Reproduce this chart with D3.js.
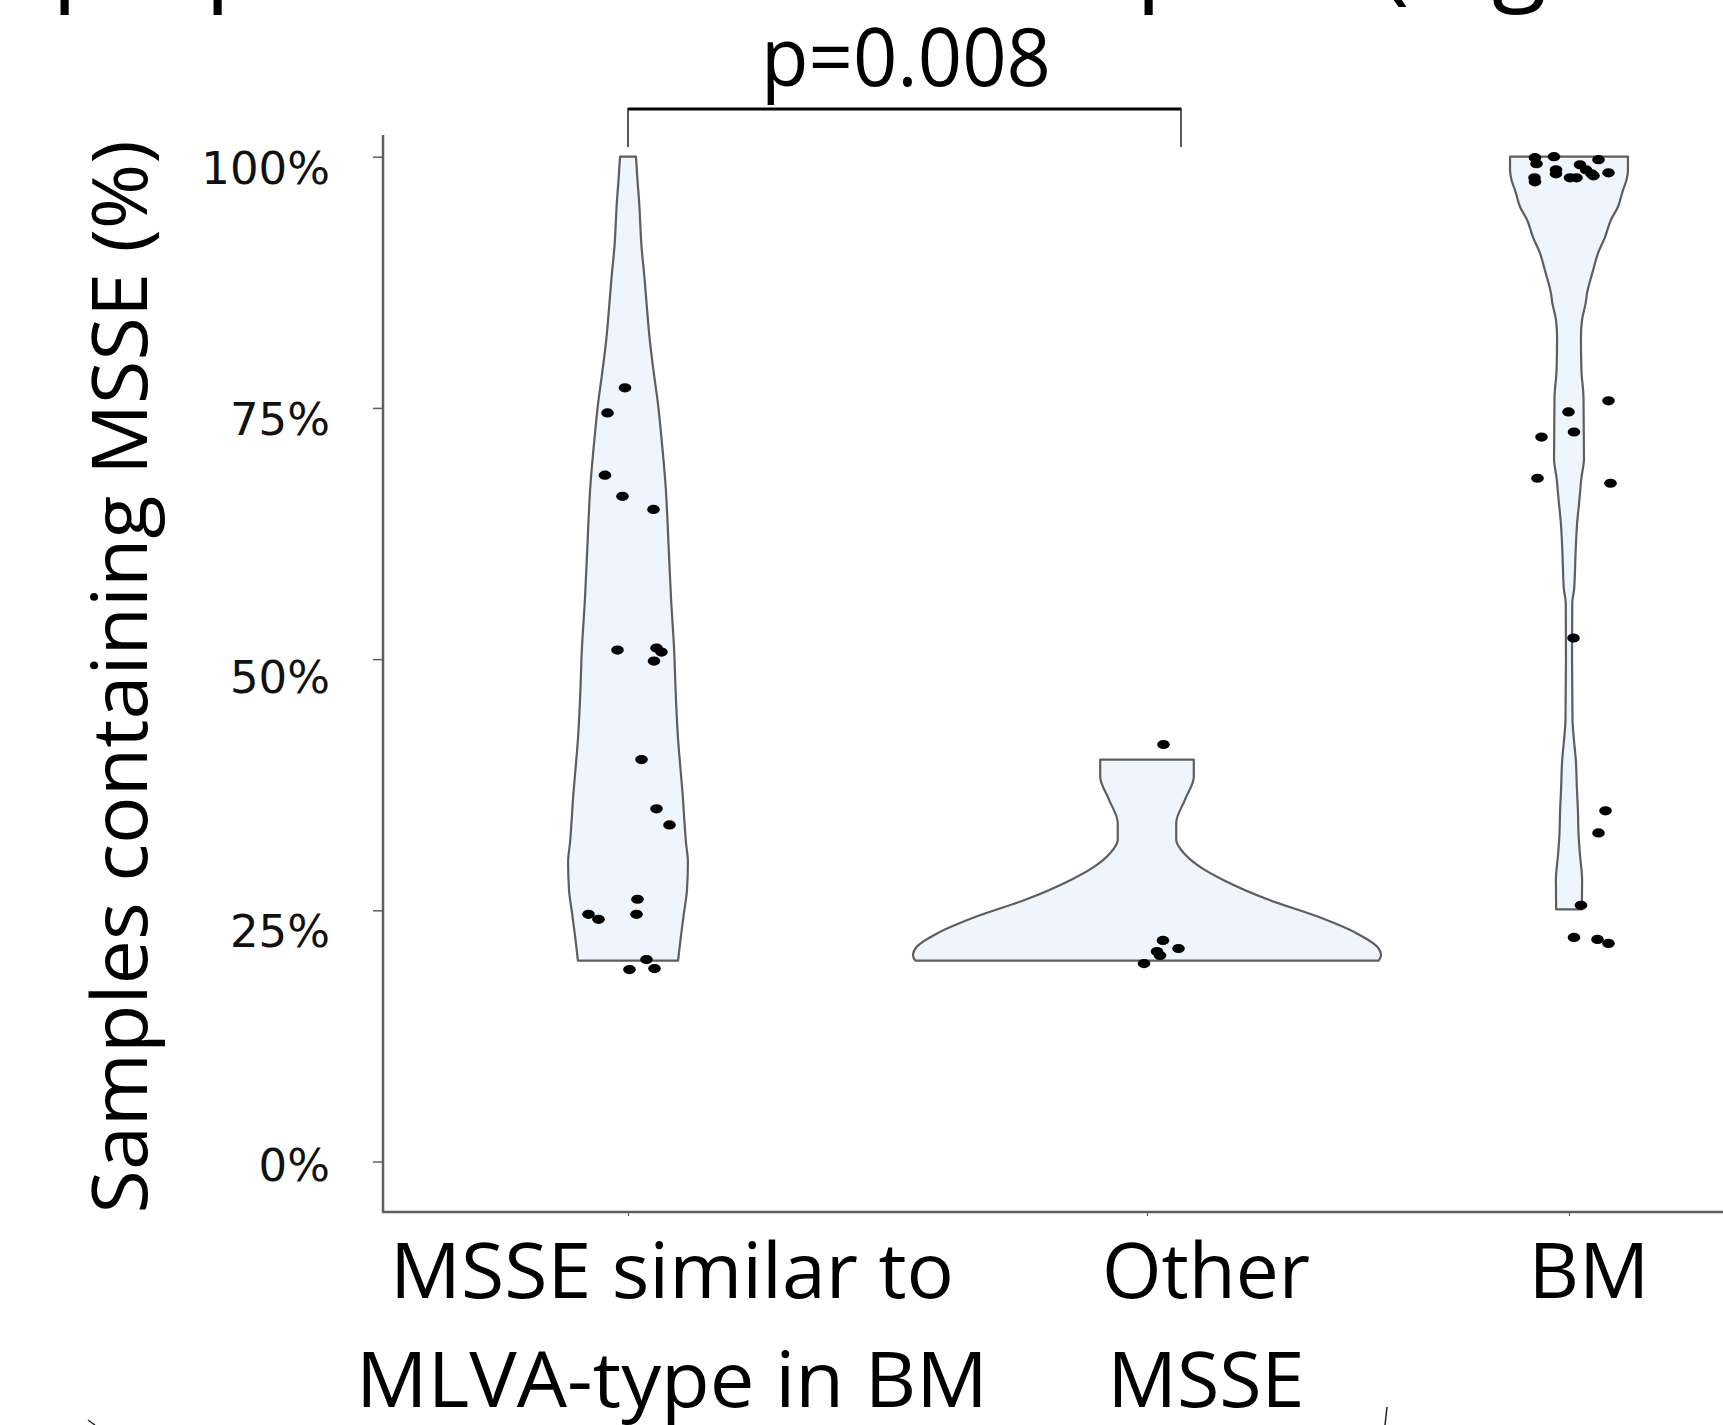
<!DOCTYPE html>
<html>
<head>
<meta charset="utf-8">
<script src="https://cdn.jsdelivr.net/npm/d3@7"></script>
<style>
  html, body { margin: 0; padding: 0; background: #fff; }
  svg { display: block; }
</style>
</head>
<body>
<svg width="1723" height="1425"></svg>
<script>
'use strict';

// categories and their (two line) labels
var categories = ['similar', 'other', 'bm'];
var categoryLabels = [
    ['MSSE similar to', 'MLVA-type in BM'],
    ['Other', 'MSSE'],
    ['BM']
];
var yTicks = [0, 25, 50, 75, 100];
var yTitle = 'Samples containing MSSE (%)';
var pValueText = 'p=0.008';

// violin outlines: [value %, relative half width]
var violinSimilar = [
    [100, 0.034], [97.5, 0.041], [95.7, 0.047], [91, 0.058], [87.8, 0.071],
    [85.5, 0.079], [82, 0.092], [78, 0.113], [75.8, 0.126],
    [72, 0.143], [67.5, 0.160], [60.5, 0.175], [56, 0.184], [51, 0.197],
    [46, 0.205], [42, 0.214], [39.7, 0.222], [36.7, 0.233], [31.7, 0.248],
    [29.8, 0.256], [27, 0.252], [24.7, 0.239], [22.4, 0.226], [20, 0.214]
];
var violinOther = [
    [40, 0.200], [38.3, 0.200], [36, 0.162], [33.7, 0.125], [32, 0.125],
    [30.7, 0.157], [29.3, 0.228], [28, 0.328], [26, 0.526], [24.4, 0.726],
    [22.7, 0.897], [21.4, 0.983], [20.5, 1.0], [20, 0.99]
];
var violinBM = [
    [100, 0.252], [98.7, 0.252], [97.7, 0.246], [96.7, 0.231], [95, 0.209],
    [93.7, 0.179], [92, 0.154], [90.4, 0.124], [88.7, 0.103], [86.4, 0.077],
    [85.4, 0.071], [83.8, 0.056], [82.1, 0.051], [78.8, 0.053], [76, 0.062],
    [70, 0.064], [68, 0.053], [66, 0.045], [63.3, 0.034], [60.5, 0.028],
    [57, 0.022], [55.6, 0.014], [50, 0.013], [44, 0.015], [42, 0.021],
    [40, 0.029], [37, 0.034], [35, 0.038], [32.5, 0.041], [30.5, 0.047],
    [28, 0.056], [25.1, 0.055]
];

// samples: [value %, jitter -1..1]
var pointsSimilar = [
    [77.0, -0.06], [74.5, -0.41], [68.3, -0.46], [66.2, -0.11], [64.9, 0.51],
    [50.9, -0.21], [51.1, 0.57], [50.7, 0.67], [49.8, 0.52], [40.0, 0.27],
    [35.1, 0.57], [33.5, 0.83], [26.1, 0.19], [24.6, 0.17], [24.6, -0.79],
    [24.1, -0.59], [20.1, 0.37], [19.1, 0.03], [19.2, 0.53]
];
var pointsOther = [
    [41.5, 0.33], [22.0, 0.32], [21.2, 0.63], [20.9, 0.20], [20.5, 0.26], [19.7, -0.06]
];
var pointsBM = [
    [99.9, -0.68], [100, -0.30], [99.7, 0.59], [99.3, -0.65], [98.7, -0.26],
    [99.2, 0.22], [98.7, 0.34], [98.4, 0.79], [97.9, -0.69], [97.5, -0.68],
    [98.3, -0.26], [97.9, 0.02], [97.9, 0.15], [98.1, 0.49], [98.3, 0.45],
    [75.7, 0.79], [74.6, -0.01], [72.6, 0.10], [72.1, -0.55], [68.0, -0.63],
    [67.5, 0.83], [52.1, 0.09], [34.9, 0.73], [32.7, 0.59], [25.5, 0.24],
    [22.3, 0.10], [22.1, 0.57], [21.7, 0.79]
];

// glyph ends of the cut off slide title above the chart
var titleGlyphs = [['p', 52], ['p', 205], ['p', 1136], ['(', 1380], ['g', 1492]];

var svg = d3.select('svg');

var x = d3.scaleOrdinal().domain(categories).range([628, 1147, 1569]);
var y = d3.scaleLinear().domain([0, 100]).range([1161.5, 156.7]);
var w = d3.scaleLinear().domain([0, 1]).range([0, 234]);
var jitter = d3.scaleLinear().domain([-1, 1]).range([-50, 50]);

var axisX = 383, axisBottom = 1212, axisTop = 135;
var axisColor = '#606060';
var textFont = '"Open Sans", "Noto Sans", sans-serif';

// axis lines
svg.append('line')
    .attr('x1', axisX).attr('x2', axisX)
    .attr('y1', axisTop).attr('y2', axisBottom + 1)
    .attr('stroke', axisColor).attr('stroke-width', 2.5);
svg.append('line')
    .attr('x1', axisX - 1).attr('x2', 1723)
    .attr('y1', axisBottom).attr('y2', axisBottom)
    .attr('stroke', axisColor).attr('stroke-width', 2.5);

// y axis ticks and labels
var labelNudge = { 0: 5, 25: 22, 50: 19, 75: 12, 100: 12 };
var yAxis = svg.append('g')
    .attr('transform', 'translate(' + axisX + ',0)')
    .call(d3.axisLeft(y).tickValues(yTicks).tickSize(10).tickPadding(43)
        .tickFormat(function (d) { return d + '%'; }));
yAxis.select('.domain').remove();
yAxis.selectAll('line').attr('stroke', axisColor).attr('stroke-width', 1.5);
yAxis.selectAll('text')
    .attr('font-family', '"DejaVu Sans", Verdana, sans-serif')
    .attr('font-size', 45)
    .attr('fill', '#111')
    .attr('transform', function (d) { return 'translate(0,' + labelNudge[d] + ')'; });

// x axis ticks
var xAxis = svg.append('g')
    .attr('transform', 'translate(0,' + axisBottom + ')')
    .call(d3.axisBottom(x).tickSize(4).tickFormat(''));
xAxis.select('.domain').remove();
xAxis.selectAll('line').attr('stroke', axisColor).attr('stroke-width', 1.2);

// violins
var violins = [
    { cat: 'similar', profile: violinSimilar, points: pointsSimilar },
    { cat: 'other', profile: violinOther, points: pointsOther },
    { cat: 'bm', profile: violinBM, points: pointsBM }
];

violins.forEach(function (v) {
    var cx = x(v.cat);
    var area = d3.area()
        .curve(d3.curveMonotoneY)
        .y(function (d) { return y(d[0]); })
        .x0(function (d) { return cx - w(d[1]); })
        .x1(function (d) { return cx + w(d[1]); });

    svg.append('path')
        .datum(v.profile)
        .attr('d', area)
        .attr('fill', '#eef5fd')
        .attr('stroke', '#5e5e5e')
        .attr('stroke-width', 2.2)
        .attr('stroke-linejoin', 'round');

    svg.append('g').selectAll('ellipse')
        .data(v.points)
        .enter()
        .append('ellipse')
        .attr('cx', function (d) { return cx + jitter(d[1]); })
        .attr('cy', function (d) { return y(d[0]); })
        .attr('rx', 6.3)
        .attr('ry', 4.6)
        .attr('fill', '#000');
});

// x category labels
var labelShift = [44, 59, 20];
var labelWidths = [[564, 632], [208, 197], [121]];
categories.forEach(function (c, i) {
    categoryLabels[i].forEach(function (line, j) {
        svg.append('text')
            .attr('x', x(c) + labelShift[i])
            .attr('y', 1298 + j * 109)
            .attr('text-anchor', 'middle')
            .attr('font-family', textFont)
            .attr('font-size', 77)
            .attr('textLength', labelWidths[i][j])
            .attr('lengthAdjust', 'spacingAndGlyphs')
            .attr('fill', '#000')
            .text(line);
    });
});

// y title
svg.append('text')
    .attr('transform', 'translate(147,677) rotate(-90)')
    .attr('text-anchor', 'middle')
    .attr('font-family', textFont)
    .attr('font-size', 77)
    .attr('textLength', 1073)
    .attr('lengthAdjust', 'spacingAndGlyphs')
    .attr('fill', '#000')
    .text(yTitle);

// significance bracket
var bracketLeft = x('similar'), bracketRight = x('other') + 34;
svg.append('line')
    .attr('x1', bracketLeft).attr('x2', bracketRight)
    .attr('y1', 109).attr('y2', 109)
    .attr('stroke', '#000').attr('stroke-width', 2.8);
[bracketLeft, bracketRight].forEach(function (bx) {
    svg.append('line')
        .attr('x1', bx).attr('x2', bx)
        .attr('y1', 108).attr('y2', 147)
        .attr('stroke', '#222').attr('stroke-width', 1.5);
});
svg.append('text')
    .attr('x', 906)
    .attr('y', 86)
    .attr('text-anchor', 'middle')
    .attr('font-family', textFont)
    .attr('font-size', 80)
    .attr('textLength', 290)
    .attr('lengthAdjust', 'spacingAndGlyphs')
    .attr('fill', '#000')
    .text(pValueText);

// bits of the slide title cut off at the top
svg.append('g').selectAll('text')
    .data(titleGlyphs)
    .enter()
    .append('text')
    .attr('x', function (d) { return d[1]; })
    .attr('y', -9)
    .attr('font-family', textFont)
    .attr('font-size', 100)
    .attr('fill', '#000')
    .text(function (d) { return d[0]; });

// small stray strokes of other slide shapes at the bottom edge
svg.append('line')
    .attr('x1', 1387).attr('x2', 1385).attr('y1', 1407).attr('y2', 1425)
    .attr('stroke', '#222').attr('stroke-width', 1.5);
svg.append('line')
    .attr('x1', 88).attr('x2', 95).attr('y1', 1420).attr('y2', 1425)
    .attr('stroke', '#222').attr('stroke-width', 1.5);
</script>
</body>
</html>
